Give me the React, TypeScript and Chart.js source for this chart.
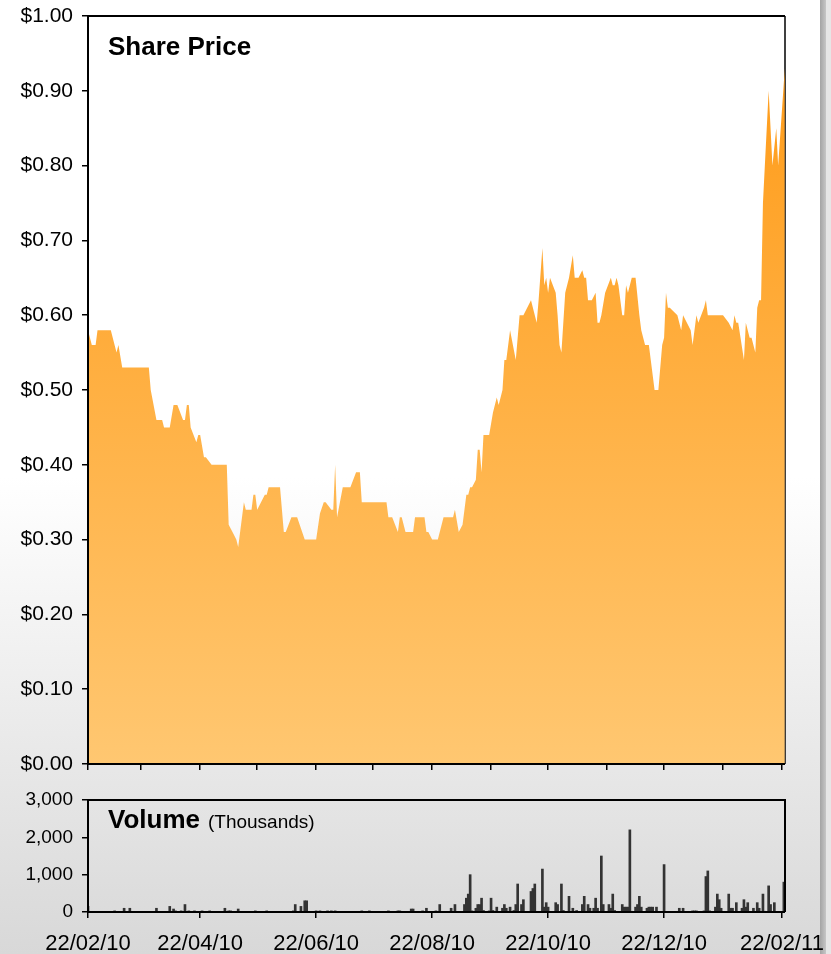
import React, { useEffect, useRef } from "react";
import { Chart, registerables } from "chart.js";
Chart.register(...registerables);

const FONT = "'Liberation Sans', Arial, Helvetica, sans-serif";

// x axis: days since 22/02/10
const X_MAX = 366.6;
const monthTickDays = [0, 28, 59, 89, 120, 150, 181, 212, 242, 273, 303, 334, 365];
const labelTickDays = [0, 59, 120, 181, 242, 303, 365];
const dateLabels = ["22/02/10", "22/04/10", "22/06/10", "22/08/10", "22/10/10", "22/12/10", "22/02/11"];

const priceDays = [
  0, 2, 4, 5, 12, 15, 16, 18, 32, 33, 36, 39, 40, 43, 45, 47, 50, 51, 52, 53, 54, 57, 58, 59, 61, 62, 65, 73,
  74, 76, 78, 79, 81, 82, 83, 86, 87, 88, 89, 93, 94, 95, 101, 103, 104, 107, 110, 114, 120, 122, 124, 125,
  128, 129, 130, 131, 134, 138, 141, 143, 144, 157, 158, 160, 163, 164, 165, 167, 171, 172, 177, 178, 179,
  181, 184, 187, 192, 193, 195, 197, 199, 200, 201, 202, 204, 205, 206, 207, 208, 211, 213, 215, 216, 218,
  219, 220, 222, 225, 227, 229, 233, 236, 237, 239, 240, 241, 242, 243, 246, 247, 248, 249, 251, 253, 255,
  256, 258, 260, 261, 262, 263, 265, 267, 268, 269, 270, 272, 275, 276, 277, 278, 279, 281, 282, 283, 284,
  286, 288, 290, 291, 293, 295, 296, 298, 300, 302, 303, 304, 305, 306, 310, 311, 312, 313, 317, 318, 320,
  321, 324, 325, 326, 334, 337, 339, 340, 341, 342, 345, 346, 348, 349, 351, 352, 353, 354, 355, 356, 358,
  360, 362, 363, 366.5,
];
const priceValues = [
  0.58, 0.56, 0.56, 0.58, 0.58, 0.55, 0.56, 0.53, 0.53, 0.5, 0.46, 0.46, 0.45, 0.45, 0.48, 0.48, 0.46, 0.46,
  0.48, 0.48, 0.45, 0.43, 0.44, 0.44, 0.41, 0.41, 0.4, 0.4,
  0.32, 0.31, 0.3, 0.29, 0.33, 0.35, 0.34, 0.34, 0.36, 0.36, 0.34, 0.36, 0.36, 0.37, 0.37, 0.31, 0.31, 0.33,
  0.33, 0.3, 0.3, 0.335, 0.35, 0.35,
  0.34, 0.34, 0.4, 0.33, 0.37, 0.37, 0.39, 0.39, 0.35, 0.35, 0.33, 0.33, 0.31, 0.33, 0.33, 0.31, 0.31, 0.33,
  0.33, 0.31, 0.31,
  0.3, 0.3, 0.33, 0.33, 0.34, 0.31, 0.32, 0.36, 0.36, 0.37, 0.37, 0.38, 0.42, 0.42, 0.39, 0.44, 0.44, 0.47,
  0.49, 0.48, 0.5,
  0.54, 0.54, 0.58, 0.54, 0.6, 0.6, 0.62, 0.59, 0.62, 0.69, 0.64, 0.65, 0.63, 0.65, 0.63, 0.6, 0.56, 0.55,
  0.63, 0.65, 0.68,
  0.65, 0.65, 0.66, 0.65, 0.65, 0.62, 0.62, 0.63, 0.59, 0.59, 0.6, 0.63, 0.65, 0.64, 0.64, 0.65, 0.64, 0.6,
  0.6, 0.64, 0.63,
  0.65, 0.65, 0.6, 0.58, 0.56, 0.56, 0.54, 0.5, 0.5, 0.56, 0.57, 0.63, 0.61, 0.61, 0.6, 0.59, 0.58, 0.6, 0.58,
  0.56, 0.6,
  0.59, 0.61, 0.62, 0.6, 0.6, 0.59, 0.58, 0.6, 0.59, 0.59, 0.54, 0.59, 0.57, 0.57, 0.55, 0.61, 0.62, 0.62,
  0.75, 0.8, 0.9,
  0.8, 0.85, 0.8, 0.93,
];

const volumeDays = [
  0, 14, 19, 22, 36, 43, 45, 46, 49, 51, 53, 56, 60, 64, 72, 74, 75, 79, 88, 94, 108, 109, 112, 114, 115, 120,
  122, 126, 128, 130, 144, 148, 158, 163, 164, 170, 171, 176, 178, 183, 185, 191, 193, 198, 199, 200, 201,
  202, 204, 205, 206, 207, 208, 211, 212, 213, 215, 218, 219, 220, 222, 224, 225, 226, 228, 229, 233, 234,
  235, 239, 240, 241, 242, 246, 247, 249, 250, 253, 255, 257, 260, 261, 263, 264, 266, 267, 268, 270, 271,
  274, 275, 276, 277, 281, 282, 283, 284, 285, 286, 288, 289, 290, 291, 294, 295, 296, 297, 299, 303, 311,
  313, 318, 319, 320, 324, 325, 326, 327, 330, 331, 332, 333, 337, 338, 339, 341, 344, 345, 346, 347, 350,
  352, 353, 355, 356, 358, 359, 361, 366,
];
const volumeValues = [
  150, 30, 100, 100, 100, 150, 80, 30, 30, 200, 30, 30, 30, 30, 100, 30, 30, 80, 30, 30, 30, 200, 150, 300,
  300, 30,
  30, 30, 30, 30, 30, 30, 30, 30, 30, 80, 80, 30, 100, 30, 200, 100, 200, 200, 370, 480, 1000,
  30, 100, 200, 200, 370, 40, 30, 370, 40, 130, 100, 200, 100, 130, 40, 200, 750, 200, 330, 550, 630,
  750, 1150, 130, 250, 130, 250, 200, 750, 40, 420, 100, 40, 200, 420, 200, 100, 100, 370, 100, 1500, 200,
  200, 100, 480, 40, 200, 130, 130, 130, 2200, 10, 130, 200, 420, 130, 100, 130, 130, 130, 130, 1270, 100,
  100, 30, 30, 30, 30, 950, 1100, 30, 130, 480, 330, 100, 480, 100, 100, 250, 100, 330, 130, 250, 100,
  250, 100, 480, 20, 700, 200, 250, 800,
];

const priceTickStep = 0.1;
const volumeTickStep = 1000;

function makeFrame(title: string, subtitle: string, titleY: number, rightUnder: boolean) {
  return {
    id: "frame-" + title,
    beforeDatasetsDraw(chart: any) {
      if (!rightUnder) return;
      const { ctx, chartArea: a } = chart;
      ctx.save();
      ctx.strokeStyle = "#000";
      ctx.lineWidth = 1.5;
      ctx.beginPath();
      ctx.moveTo(a.right, a.top);
      ctx.lineTo(a.right, a.bottom);
      ctx.stroke();
      ctx.restore();
    },
    afterDatasetsDraw(chart: any) {
      const { ctx, chartArea: a } = chart;
      ctx.save();
      ctx.strokeStyle = "#000";
      ctx.lineWidth = 2;
      ctx.beginPath();
      ctx.moveTo(a.left, a.bottom);
      ctx.lineTo(a.left, a.top);
      ctx.lineTo(a.right, a.top);
      if (!rightUnder) ctx.lineTo(a.right, a.bottom);
      ctx.moveTo(a.left, a.bottom);
      ctx.lineTo(a.right, a.bottom);
      ctx.stroke();
      ctx.fillStyle = "#000";
      ctx.textBaseline = "alphabetic";
      ctx.textAlign = "left";
      ctx.font = "bold 26px " + FONT;
      ctx.fillText(title, 108, titleY);
      if (subtitle) {
        const w = ctx.measureText(title).width;
        ctx.font = "19px " + FONT;
        ctx.fillText(subtitle, 108 + w + 8, titleY);
      }
      ctx.restore();
    },
  };
}

export default function App() {
  const priceRef = useRef<HTMLCanvasElement>(null);
  const volRef = useRef<HTMLCanvasElement>(null);

  useEffect(() => {
    const priceData = priceDays.map((d, i) => ({ x: d, y: priceValues[i] }));
    const volData = volumeDays.map((d, i) => ({ x: d, y: volumeValues[i] }));

    const tickGrid = {
      display: true,
      drawOnChartArea: false,
      drawTicks: true,
      tickLength: 6,
      color: "#000",
      lineWidth: 1.5,
    };

    const priceChart = new Chart(priceRef.current!, {
      type: "line",
      data: {
        datasets: [
          {
            data: priceData,
            borderWidth: 0,
            pointRadius: 0,
            tension: 0,
            fill: "origin",
            backgroundColor: (c: any) => {
              const chart = c.chart;
              const a = chart.chartArea;
              if (!a) return "#FFB347";
              const g = chart.ctx.createLinearGradient(0, a.top, 0, a.bottom);
              g.addColorStop(0, "#FF9914");
              g.addColorStop(1, "#FFC771");
              return g;
            },
          },
        ],
      },
      options: {
        responsive: false,
        animation: false,
        layout: { padding: { top: 16, right: 46, left: 0, bottom: 0 } },
        plugins: { legend: { display: false }, tooltip: { enabled: false } },
        scales: {
          x: {
            type: "linear",
            min: 0,
            max: X_MAX,
            border: { display: false },
            grid: tickGrid,
            ticks: { display: false },
            afterBuildTicks: (s: any) => {
              s.ticks = monthTickDays.map((v) => ({ value: v }));
            },
            afterFit: (s: any) => {
              s.height = 26;
              s.paddingLeft = 0;
              s.paddingRight = 0;
            },
          },
          y: {
            min: 0,
            max: 1,
            border: { display: false },
            grid: tickGrid,
            ticks: {
              stepSize: priceTickStep,
              color: "#000",
              padding: 9,
              font: { family: FONT, size: 21 },
              callback: (v: any) => "$" + Number(v).toFixed(2),
            },
            afterFit: (s: any) => {
              s.width = 88;
              s.paddingTop = 0;
              s.paddingBottom = 0;
            },
          },
        },
      },
      plugins: [makeFrame("Share Price", "", 55, true)],
    } as any);

    const volChart = new Chart(volRef.current!, {
      type: "bar",
      data: {
        datasets: [
          {
            data: volData,
            backgroundColor: "#333333",
            borderWidth: 0,
            barThickness: 2,
          },
        ],
      },
      options: {
        responsive: false,
        animation: false,
        layout: { padding: { top: 10, right: 46, left: 0, bottom: 0 } },
        plugins: { legend: { display: false }, tooltip: { enabled: false } },
        scales: {
          x: {
            type: "linear",
            min: 0,
            max: X_MAX,
            offset: false,
            border: { display: false },
            grid: { ...tickGrid, offset: false },
            ticks: {
              color: "#000",
              padding: 13,
              autoSkip: false,
              maxRotation: 0,
              minRotation: 0,
              font: { family: FONT, size: 22 },
              callback: (v: any) => {
                const i = labelTickDays.indexOf(Number(v));
                return i >= 0 ? dateLabels[i] : "";
              },
            },
            afterBuildTicks: (s: any) => {
              s.ticks = labelTickDays.map((v) => ({ value: v }));
            },
            afterFit: (s: any) => {
              s.height = 42;
              s.paddingLeft = 0;
              s.paddingRight = 0;
            },
          },
          y: {
            min: 0,
            max: 3000,
            border: { display: false },
            grid: tickGrid,
            ticks: {
              stepSize: volumeTickStep,
              color: "#000",
              padding: 9,
              font: { family: FONT, size: 19 },
              callback: (v: any) => Number(v).toLocaleString("en-US"),
            },
            afterFit: (s: any) => {
              s.width = 88;
              s.paddingTop = 0;
              s.paddingBottom = 0;
            },
          },
        },
      },
      plugins: [makeFrame("Volume", "(Thousands)", 38, false)],
    } as any);

    return () => {
      priceChart.destroy();
      volChart.destroy();
    };
  }, []);

  return (
    <div
      style={{
        position: "absolute",
        left: 0,
        top: 0,
        width: 831,
        height: 954,
        overflow: "hidden",
        background: "linear-gradient(to bottom, #ffffff 0%, #ffffff 50%, #d8d8d8 100%)",
      }}
    >
      <div
        style={{
          position: "absolute",
          left: 820,
          top: 0,
          width: 6,
          height: 954,
          background: "linear-gradient(to right, #a4a4a4, #c6c6c6)",
        }}
      />
      <div
        style={{ position: "absolute", left: 826, top: 0, width: 5, height: 954, background: "#e6e6e6" }}
      />
      <canvas
        ref={priceRef}
        width={831}
        height={790}
        style={{ position: "absolute", left: 0, top: 0, display: "block" }}
      />
      <canvas
        ref={volRef}
        width={831}
        height={164}
        style={{ position: "absolute", left: 0, top: 790, display: "block" }}
      />
    </div>
  );
}
